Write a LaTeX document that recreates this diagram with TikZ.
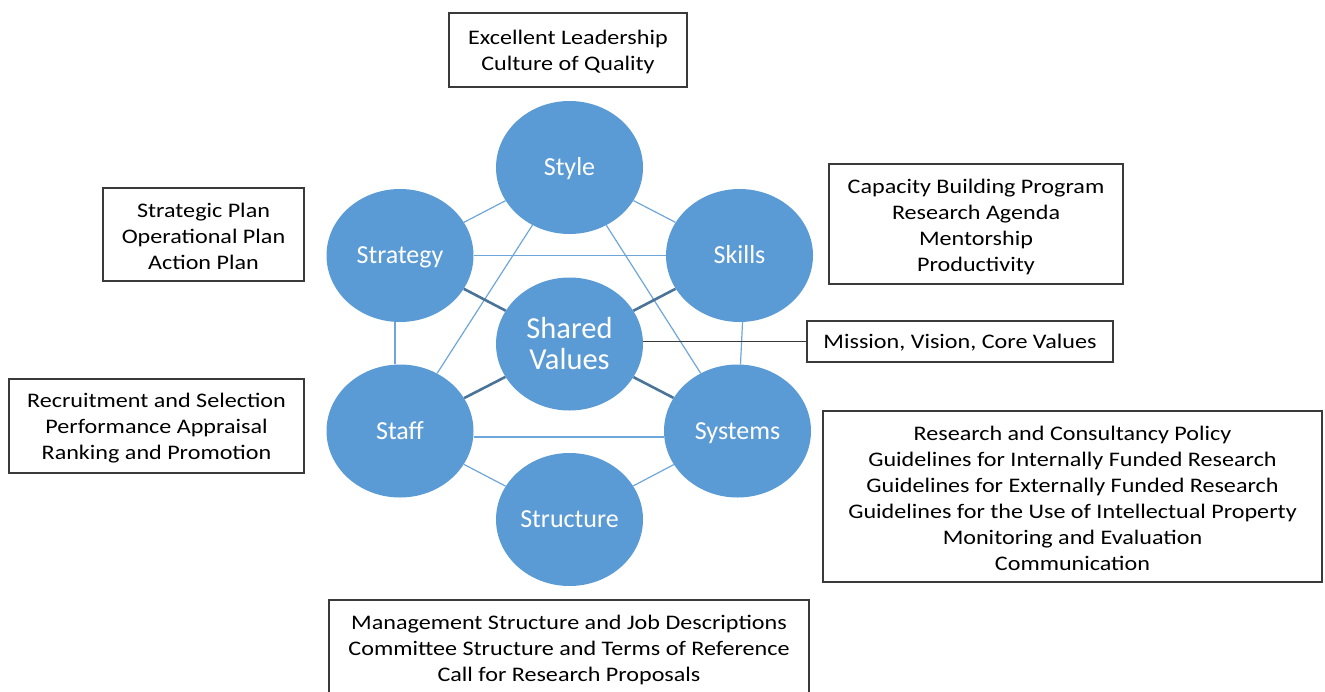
\documentclass[tikz,border=0pt]{standalone}
\usepackage{fontspec}
\newfontfamily\boxfont{Carlito}[FakeStretch=1.165]
\newfontfamily\circfont{Carlito}
\usetikzlibrary{shapes.geometric}
\definecolor{orbfill}{HTML}{5B9BD5}
\definecolor{linkblue}{HTML}{6FA6DA}
\definecolor{coreblue}{HTML}{4A7398}
\definecolor{boxgray}{HTML}{3A3A3A}
\begin{document}
\begin{tikzpicture}[x=1pt,y=-1pt,
  orb/.style={ellipse, fill=orbfill, minimum width=147pt, minimum height=133pt,
    inner sep=0pt, text=white},
  word/.style={orb, font=\circfont\fontsize{26}{30}\selectfont,
    text height=16.7pt, text depth=0pt},
  link/.style={draw=linkblue, line width=1.2pt},
  core/.style={draw=coreblue, line width=2.6pt},
  lead/.style={draw=boxgray, line width=1.3pt},
  frame/.style={draw=boxgray, line width=1.4pt, inner sep=0pt},
  boxtext/.style={align=center, inner sep=0pt, text=black,
    font=\boxfont\fontsize{20.7}{26}\selectfont}]
\useasboundingbox (0,0) rectangle (1325,691);

% the seven elements
\node[word] (style)  at (569.5,167.5) {Style};
\node[word] (strat)  at (400,255.5)   {Strategy};
\node[word] (skills) at (739.5,255.5) {Skills};
\node[orb, align=center, font=\circfont\fontsize{30.5}{31}\selectfont] (sv) at (569.5,344) {Shared\\Values};
\node[word] (staff)  at (400,431)     {Staff};
\node[word] (sys)    at (737.5,431)   {Systems};
\node[word] (struct) at (569.5,519.5) {Structure};

% outer web
\draw[link] (style) -- (strat);
\draw[link] (style) -- (skills);
\draw[link] (strat) -- (skills);
\draw[link] (style) -- (staff);
\draw[link] (style) -- (sys);
\draw[link] ([xshift=-5pt]strat.south) -- ([xshift=-5pt]staff.north);
\draw[link] ([xshift=3pt]skills.south) -- ([xshift=3pt]sys.north);
\draw[link] ([yshift=-6pt]staff.east) -- ([yshift=-6pt]sys.west);
\draw[link] (staff) -- (struct);
\draw[link] (sys) -- (struct);

% spokes to the core
\draw[core] (sv) -- (strat);
\draw[core] (sv) -- (skills);
\draw[core] (sv) -- (staff);
\draw[core] (sv) -- (sys);

% description frames
\node[frame, minimum width=238pt, minimum height=74pt]  (leadbox)    at (568,50) {};
\node[frame, minimum width=201pt, minimum height=93pt]  (planbox)    at (203.5,234.5) {};
\node[frame, minimum width=294pt, minimum height=120pt] (skillbox)   at (976,224) {};
\node[frame, minimum width=306pt, minimum height=41pt]  (missionbox) at (960,341.5) {};
\node[frame, minimum width=295pt, minimum height=94pt]  (hrbox)      at (156.5,426) {};
\node[frame, minimum width=499pt, minimum height=171pt] (policybox)  at (1072.5,496.5) {};
\node[frame, minimum width=480pt, minimum height=96pt]  (mgmtbox)    at (569,648) {};

% description texts
\node[boxtext] (leadtxt) at ([yshift=-2pt]leadbox.center)
  {Excellent Leadership\\Culture of Quality};
\node[boxtext] (plantxt) at ([yshift=-1.5pt]planbox.center)
  {Strategic Plan\\Operational Plan\\Action Plan};
\node[boxtext] (skilltxt) at ([yshift=-2.5pt]skillbox.center)
  {Capacity Building Program\\Research Agenda\\Mentorship\\Productivity};
\node[boxtext] (missiontxt) at ([yshift=-1pt]missionbox.center)
  {Mission, Vision, Core Values};
\node[boxtext] (hrtxt) at ([yshift=-2.5pt]hrbox.center)
  {Recruitment and Selection\\Performance Appraisal\\Ranking and Promotion};
\node[boxtext] (policytxt) at ([yshift=-2pt]policybox.center)
  {Research and Consultancy Policy\\Guidelines for Internally Funded Research\\Guidelines for Externally Funded Research\\Guidelines for the Use of Intellectual Property\\Monitoring and Evaluation\\Communication};
\node[boxtext] (mgmttxt) at ([yshift=-2pt]mgmtbox.center)
  {Management Structure and Job Descriptions\\Committee Structure and Terms of Reference\\Call for Research Proposals};

\draw[lead] (sv.east |- missionbox.west) -- (missionbox.west);
\end{tikzpicture}
\end{document}
